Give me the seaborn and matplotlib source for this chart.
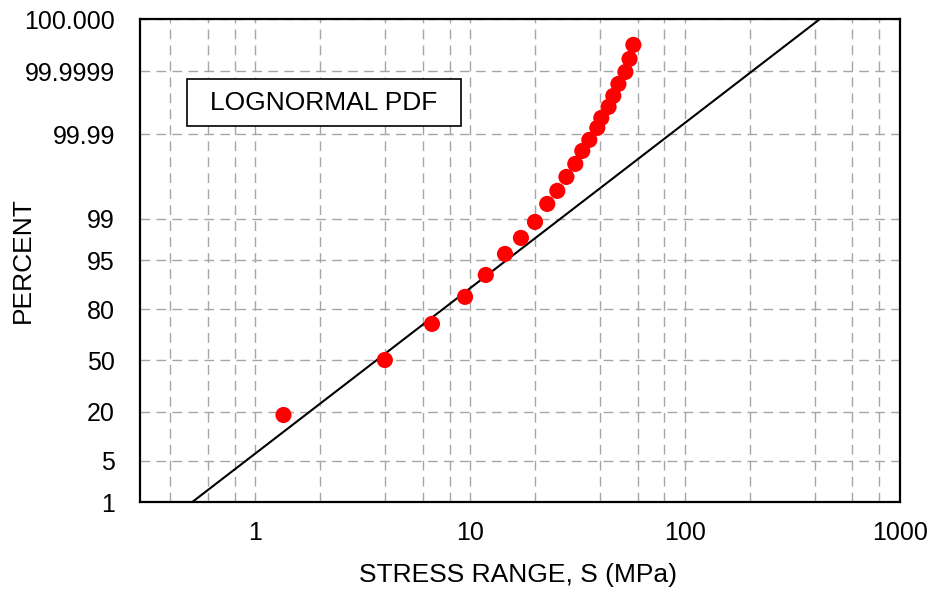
from statistics import NormalDist
import numpy as np
import pandas as pd
import matplotlib
matplotlib.use("Agg")
import matplotlib.pyplot as plt
from matplotlib.patches import Rectangle
import seaborn as sns

# measured points: stress range (MPa) and cumulative percent
stress = [1.35, 4.0, 6.63, 9.45, 11.8, 14.5, 17.2, 20.0, 22.8, 25.4, 28.0,
          30.8, 33.2, 35.8, 39.0, 40.7, 44.0, 46.3, 48.9, 52.7, 55.1, 57.4]
percent = [18.5, 50.3, 72.6, 85.2, 92.0, 96.0, 97.80, 98.86, 99.496, 99.734,
           99.872, 99.9383, 99.9713, 99.98555, 99.9934, 99.99664, 99.99846,
           99.999313, 99.999725, 99.999894, 99.999964, 99.9999893]

# fitted lognormal line (straight on probability paper)
fit_stress = [0.508, 424.0]
fit_percent = [1.0, 99.999999]

ytick_pct = [1, 5, 20, 50, 80, 95, 99, 99.99, 99.9999, 99.999999]
ytick_labels = ['1', '5', '20', '50', '80', '95', '99', '99.99', '99.9999', '100.000']
xtick_vals = [1, 10, 100, 1000]
xtick_labels = ['1', '10', '100', '1000']

nd = NormalDist()


def to_z(p):
    return [nd.inv_cdf(v / 100.0) for v in p]


df_pts = pd.DataFrame({'S': stress, 'z': to_z(percent)})
df_fit = pd.DataFrame({'S': fit_stress, 'z': to_z(fit_percent)})

sns.set_style("white")
plt.rcParams['font.family'] = ['Liberation Sans', 'DejaVu Sans']
plt.rcParams.update({'text.color': 'black', 'axes.labelcolor': 'black',
                     'xtick.color': 'black', 'ytick.color': 'black'})

fig = plt.figure(figsize=(9.35, 5.94), dpi=100)
ax = fig.add_axes([140 / 935, 1 - 502 / 594, 760 / 935, 483 / 594])

sns.lineplot(data=df_fit, x='S', y='z', color='black', linewidth=1.5, ax=ax, zorder=3,
             sort=False)
sns.scatterplot(data=df_pts, x='S', y='z', color='#ff0000', s=135, edgecolor='none',
                ax=ax, zorder=4)

ax.set_xscale('log')
ax.set_xlim(0.29, 1000)
ax.set_ylim(nd.inv_cdf(0.01), nd.inv_cdf(0.99999999))

ax.set_xticks(xtick_vals)
ax.set_xticklabels(xtick_labels)
minor = [m * d for d in [0.1, 1, 10, 100] for m in [2, 4, 6, 8]]
minor = [v for v in minor if 0.29 < v < 1000]
ax.set_xticks(minor, minor=True)
ax.xaxis.set_minor_formatter(matplotlib.ticker.NullFormatter())

ax.set_yticks(to_z(ytick_pct))
ax.set_yticklabels(ytick_labels)

ax.grid(True, which='both', color='#a6a6a6', linestyle=(0, (7, 4.5)), linewidth=1.0)
ax.set_axisbelow(True)
ax.tick_params(axis='x', which='major', direction='in', length=7, width=1.2,
               labelsize=18, pad=14)
ax.tick_params(axis='x', which='minor', length=0)
ax.tick_params(axis='y', direction='in', length=8, width=1.2, labelsize=18, pad=18)
for sp in ax.spines.values():
    sp.set_color('black')
    sp.set_linewidth(1.6)

ax.set_xlabel('')
ax.set_ylabel('')
fig.text(518 / 935, 1 - 575 / 594, 'STRESS RANGE, S (MPa)', fontsize=19,
         ha='center', va='center')
fig.text(23 / 935, 1 - 260 / 594, 'PERCENT', fontsize=19, rotation=90,
         ha='center', va='center')

box = Rectangle((47 / 760, (502 - 126) / 483), 274 / 760, 47 / 483,
                transform=ax.transAxes, facecolor='white', edgecolor='black',
                linewidth=1.2, zorder=5)
ax.add_patch(box)
ax.text((324 - 140) / 760, (502 - 102.5) / 483, 'LOGNORMAL PDF', transform=ax.transAxes,
        fontsize=19, ha='center', va='center', zorder=6)

fig.savefig('out.png', dpi=100)
plt.close(fig)
